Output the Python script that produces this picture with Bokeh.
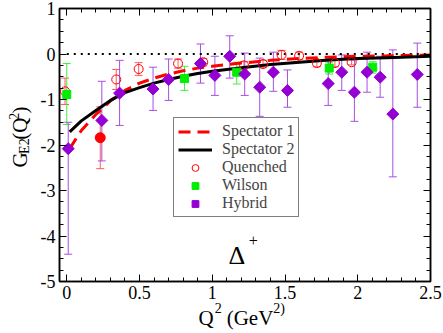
import math
import numpy as np
from bokeh.plotting import figure
from bokeh.layouts import row, column
from bokeh.models import (FixedTicker, LinearAxis, Range1d, Whisker, TeeHead,
                          ColumnDataSource, Legend, LegendItem, Label,
                          CustomJSTickFormatter)
from bokeh.embed import file_html
from bokeh.resources import INLINE

# ---------------- data ----------------
x_ticks = [0, 0.5, 1, 1.5, 2, 2.5]
x_tick_labels = ["0", "0.5", "1", "1.5", "2", "2.5"]
y_ticks = [-5, -4, -3, -2, -1, 0, 1]
y_tick_labels = ["-5", "-4", "-3", "-2", "-1", "0", "1"]

spec1_x = [0.02, 0.1, 0.2, 0.3, 0.4, 0.5, 0.6, 0.7, 0.8, 0.9, 1.0, 1.2, 1.4, 1.6, 1.8, 2.0, 2.2, 2.5]
spec1_y = [-2.08, -1.68, -1.33, -1.03, -0.80, -0.64, -0.53, -0.44, -0.37, -0.31, -0.27, -0.20, -0.14, -0.10, -0.07, -0.05, -0.04, -0.02]
spec2_x = [0.02, 0.1, 0.2, 0.3, 0.4, 0.5, 0.6, 0.7, 0.8, 0.9, 1.0, 1.2, 1.4, 1.6, 1.8, 2.0, 2.2, 2.5]
spec2_y = [-1.71, -1.47, -1.24, -1.02, -0.85, -0.74, -0.64, -0.56, -0.49, -0.43, -0.38, -0.30, -0.23, -0.18, -0.13, -0.10, -0.08, -0.05]

quen_x = [-0.012, 0.34, 0.494, 0.765, 0.938, 1.218, 1.349, 1.476, 1.597, 1.719, 1.843, 1.958]
quen_y = [-0.82, -0.56, -0.33, -0.21, -0.18, -0.25, -0.22, -0.02, -0.04, -0.20, -0.20, -0.18]
quen_err = [0.29, 0.22, 0.14, 0.10, 0.08, 0.08, 0.08, 0.10, 0.08, 0.08, 0.08, 0.06]

extra_x = [0.23]
extra_y = [-1.84]
extra_err = [0.68]

wil_x = [0.0, 0.809, 1.168, 1.804, 2.103]
wil_y = [-0.89, -0.54, -0.40, -0.31, -0.29]
wil_lo = [-1.55, -0.80, -0.66, -0.44, -0.42]
wil_hi = [-0.21, -0.27, -0.18, -0.18, -0.17]

hyb_x = [0.01, 0.241, 0.363, 0.593, 0.700, 0.919, 1.018, 1.120, 1.223, 1.326,
         1.420, 1.517, 1.797, 1.890, 1.977, 2.064, 2.154, 2.241, 2.409]
hyb_y = [-2.08, -1.46, -0.86, -0.77, -0.56, -0.21, -0.47, -0.05, -0.44, -0.73,
         -0.40, -0.80, -0.65, -0.40, -0.84, -0.40, -0.51, -1.32, -0.45]
hyb_lo = [-4.40, -2.35, -1.57, -1.24, -1.02, -0.64, -0.91, -0.53, -0.91, -1.37,
          -0.82, -1.17, -1.13, -0.80, -1.48, -0.84, -0.95, -2.70, -1.17]
hyb_hi = [-1.50, -0.60, -0.14, -0.29, -0.11, 0.22, -0.05, 0.40, 0.02, -0.09,
          0.04, -0.35, -0.15, -0.02, -0.13, 0.04, -0.05, 0.09, 0.24]

zero_x = [0.0, 2.5]
zero_y = [0.0, 0.0]

# ---------------- layout geometry (pixels) ----------------
X0, X1, Y0, Y1 = -0.05, 2.5, -5.0, 1.0
TOTAL_W, TOTAL_H = 443, 333
YL_W = 32                     # strip holding the y-axis title
MAIN_H = 302                  # main figure height
XL_H = TOTAL_H - MAIN_H       # strip holding the x-axis title
MAIN_W = TOTAL_W - YL_W
BL, BR, BT, BB = 59 - YL_W, 13, 8, MAIN_H - 281

FONT = "Liberation Serif"
SHIFT = 0.38                  # baseline compensation (fraction of font size)

p = figure(width=MAIN_W, height=MAIN_H, x_range=Range1d(X0, X1), y_range=Range1d(Y0, Y1),
           output_backend="svg", toolbar_location=None, title_location=None,
           min_border_left=BL, min_border_right=BR, min_border_top=BT, min_border_bottom=BB)
p.xgrid.visible = False
p.ygrid.visible = False
p.outline_line_color = "black"
p.outline_line_width = 1.5
p.background_fill_color = "white"
p.border_fill_color = "white"

x_minor = [round(v, 2) for v in np.arange(0.0, 2.5001, 0.1)]
y_minor = [round(v, 2) for v in np.arange(-5.0, 1.0001, 0.25)]


def style_axis(ax, show_labels):
    ax.major_tick_in = 7
    ax.major_tick_out = 0
    ax.minor_tick_in = 4
    ax.minor_tick_out = 0
    ax.axis_line_width = 1.5
    ax.major_tick_line_width = 1
    ax.minor_tick_line_width = 1
    ax.major_label_text_font = FONT
    ax.major_label_text_font_size = "18px"
    ax.major_label_text_color = "black"
    ax.major_label_standoff = 4
    if not show_labels:
        ax.formatter = CustomJSTickFormatter(code="return ''")


p.xaxis.ticker = FixedTicker(ticks=x_ticks, minor_ticks=x_minor)
p.xaxis.major_label_overrides = dict(zip(x_ticks, x_tick_labels))
p.yaxis.ticker = FixedTicker(ticks=y_ticks, minor_ticks=y_minor)
p.yaxis.major_label_overrides = dict(zip(y_ticks, y_tick_labels))
style_axis(p.xaxis[0], True)
style_axis(p.yaxis[0], True)

top_ax = LinearAxis(ticker=FixedTicker(ticks=x_ticks, minor_ticks=x_minor))
style_axis(top_ax, False)
p.add_layout(top_ax, "above")
right_ax = LinearAxis(ticker=FixedTicker(ticks=y_ticks, minor_ticks=y_minor))
style_axis(right_ax, False)
p.add_layout(right_ax, "right")

p.line(zero_x, zero_y, line_color="black", line_width=2, line_dash="2 5")

PURPLE = "#9400d3"
PURPLE_BAR = "#a650e0"
RED = "#ff0000"
RED_BAR = "#ff5a5a"
GREEN = "#00ee00"
GREEN_BAR = "#40ee40"


def add_bars(x, lo, hi, color):
    src = ColumnDataSource(dict(x=x, lo=lo, hi=hi))
    w = Whisker(source=src, base="x", lower="lo", upper="hi", line_color=color, line_width=1,
                upper_head=TeeHead(size=8, line_color=color, line_width=1),
                lower_head=TeeHead(size=8, line_color=color, line_width=1),
                level="underlay")
    p.add_layout(w)


add_bars(quen_x, [y - e for y, e in zip(quen_y, quen_err)], [y + e for y, e in zip(quen_y, quen_err)], RED_BAR)
add_bars(extra_x, [y - e for y, e in zip(extra_y, extra_err)], [y + e for y, e in zip(extra_y, extra_err)], RED_BAR)
add_bars(wil_x, wil_lo, wil_hi, GREEN_BAR)
add_bars(hyb_x, hyb_lo, hyb_hi, PURPLE_BAR)

r_s1 = p.line(spec1_x, spec1_y, line_color=RED, line_width=3, line_dash="12 7")
r_s2 = p.line(spec2_x, spec2_y, line_color="black", line_width=3)

r_q = p.scatter(quen_x, quen_y, marker="circle", size=9, fill_color=None, line_color=RED, line_width=1)
p.scatter(extra_x, extra_y, marker="circle", size=10, fill_color=RED, line_color=RED)
r_w = p.scatter(wil_x, wil_y, marker="square", size=8, fill_color=GREEN, line_color=GREEN)
r_h = p.scatter(hyb_x, hyb_y, marker="square", size=8.5, angle=math.pi / 4, angle_units="rad",
                fill_color=PURPLE, line_color=PURPLE)

legend = Legend(items=[
    LegendItem(label="Spectator 1", renderers=[r_s1]),
    LegendItem(label="Spectator 2", renderers=[r_s2]),
    LegendItem(label="Quenched", renderers=[r_q]),
    LegendItem(label="Wilson", renderers=[r_w]),
    LegendItem(label="Hybrid", renderers=[r_h]),
], location=(114, 64))
legend.label_text_font = FONT
legend.label_text_font_size = "16px"
legend.border_line_color = "black"
legend.border_line_width = 1.5
legend.background_fill_alpha = 1
legend.padding = 4
legend.spacing = 0
legend.margin = 0
legend.label_standoff = 10
legend.glyph_width = 34
legend.glyph_height = 17
legend.label_height = 17
p.add_layout(legend)


def lab(fig, text, x, y, size, angle=0.0):
    fig.add_layout(Label(x=x, y=y, text=text, text_font=FONT, text_font_size=f"{size}px",
                         text_color="black", angle=angle, text_align="left",
                         text_baseline="alphabetic"))


# Delta+ annotation (inside the frame, data units)
lab(p, "\u0394", 1.112, -4.43, 26)
lab(p, "+", 1.25, -4.09, 16)


def strip(w, h):
    f = figure(width=w, height=h, x_range=Range1d(0, w), y_range=Range1d(0, h),
               output_backend="svg", toolbar_location=None, title_location=None,
               x_axis_location=None, y_axis_location=None,
               min_border=0, min_border_left=0, min_border_right=0,
               min_border_top=0, min_border_bottom=0)
    f.xgrid.visible = False
    f.ygrid.visible = False
    f.outline_line_color = None
    f.background_fill_color = "white"
    f.border_fill_color = "white"
    return f


BIG, SMALL = 21, 14

# y-axis title strip: G_E2(Q^2), rotated, reading upward (strip pixel units, y up)
yl = strip(YL_W, MAIN_H)
bx = 27 - SHIFT * BIG
sub_x = 29 - SHIFT * SMALL
sup_x = 19 - SHIFT * SMALL
yy = MAIN_H - 176
lab(yl, "G", bx, yy, BIG, math.pi / 2)
yy += 0.722 * BIG
lab(yl, "E2", sub_x, yy, SMALL, math.pi / 2)
yy += 1.111 * SMALL
lab(yl, "(Q", bx, yy, BIG, math.pi / 2)
yy += 1.055 * BIG
lab(yl, "2", sup_x, yy, SMALL, math.pi / 2)
yy += 0.5 * SMALL
lab(yl, ")", bx, yy, BIG, math.pi / 2)

# x-axis title strip: Q^2 (GeV^2)
xl = strip(TOTAL_W, XL_H)
base_y = (TOTAL_H - 325) + SHIFT * BIG
sup_y = (TOTAL_H - 313) + SHIFT * SMALL
sx = 198
lab(xl, "Q", sx, base_y, BIG)
sx += 0.722 * BIG + 1
lab(xl, "2", sx, sup_y, SMALL)
sx += 0.5 * SMALL + 5
lab(xl, "(GeV", sx, base_y, BIG)
sx += 2.221 * BIG
lab(xl, "2)", sx, sup_y, SMALL)

layout = column(row(yl, p, spacing=0), xl, spacing=0)
open("out.html", "w").write(file_html(layout, INLINE))
